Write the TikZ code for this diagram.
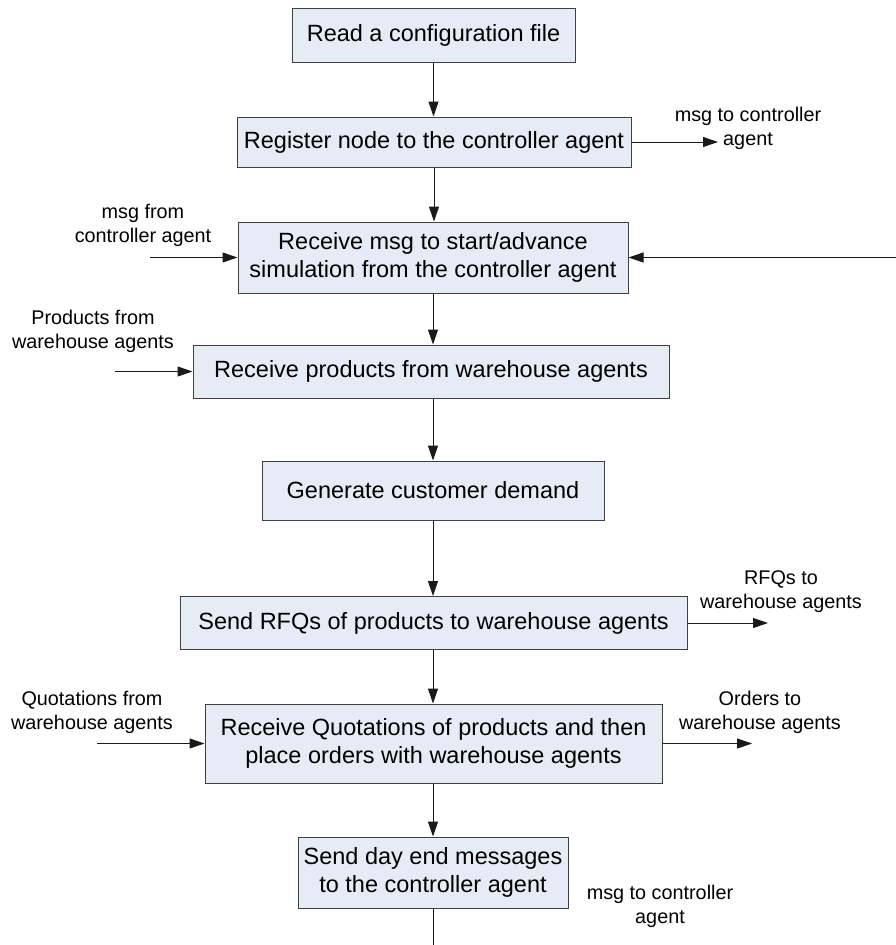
\documentclass[tikz,border=0pt]{standalone}
\usepackage{fontspec}
\setmainfont{Liberation Sans}
\usetikzlibrary{arrows.meta}
\definecolor{boxfill}{HTML}{E6ECF6}
\definecolor{boxline}{HTML}{404040}
\definecolor{wire}{HTML}{1A1A1A}
\tikzset{
  stepbox/.style={draw=boxline, fill=boxfill, line width=1pt, inner sep=0pt,
    align=center, font=\fontsize{23.5}{28}\selectfont},
  flow/.style={draw=wire, line width=1pt, -{Triangle[length=15pt,width=10pt]}},
  plain/.style={draw=wire, line width=1pt},
  note/.style={align=center, inner sep=0pt, font=\fontsize{19.8}{24}\selectfont},
}
\begin{document}
\begin{tikzpicture}[x=1pt,y=-1pt]
\useasboundingbox (0,0) rectangle (896,945);

% process steps
\node[stepbox, minimum width=283pt, minimum height=54pt] (read) at (433.5,35) {Read a configuration file};
\node[stepbox, minimum width=394pt, minimum height=50pt] (reg) at (434,142) {Register node to the controller agent};
\node[stepbox, minimum width=390pt, minimum height=71pt] (start) at (433,257.5) {Receive msg to start/advance\\simulation from the controller agent};
\node[stepbox, minimum width=476pt, minimum height=53pt] (prod) at (431,371.5) {Receive products from warehouse agents};
\node[stepbox, minimum width=342pt, minimum height=59pt] (demand) at (433,490.5) {Generate customer demand};
\node[stepbox, minimum width=507pt, minimum height=53pt] (rfq) at (433.5,623) {Send RFQs of products to warehouse agents};
\node[stepbox, minimum width=457pt, minimum height=79pt] (quote) at (433.5,743.5) {Receive Quotations of products and then\\place orders with warehouse agents};
\node[stepbox, minimum width=270pt, minimum height=71pt] (dayend) at (433,872.5) {Send day end messages\\to the controller agent};

% side labels
\node[note] (lregout) at (748,128) {msg to controller\\agent};
\node[note] (lstartin) at (143,225) {msg from\\controller agent};
\node[note] (lprodin) at (93,331.5) {Products from\\warehouse agents};
\node[note] (lrfqout) at (781,591.5) {RFQs to\\warehouse agents};
\node[note] (lquotein) at (92,712) {Quotations from\\warehouse agents};
\node[note] (lorderout) at (760,712) {Orders to\\warehouse agents};
\node[note] (ldayout) at (660,906) {msg to controller\\agent};

% free ends of the side connectors
\coordinate (regout) at (718,142);
\coordinate (startin) at (150,257.5);
\coordinate (loopin) at (896,257.5);
\coordinate (prodin) at (115,371.5);
\coordinate (rfqout) at (768,623);
\coordinate (quotein) at (97,743.5);
\coordinate (orderout) at (752,743.5);
\coordinate (dayout) at (433,945);

% main flow
\draw[flow] (read.south) -- (read.south |- reg.north);
\draw[flow] (reg.south) -- (reg.south |- start.north);
\draw[flow] (start.south) -- (start.south |- prod.north);
\draw[flow] (start.south |- prod.south) -- (start.south |- demand.north);
\draw[flow] (demand.south) -- (demand.south |- rfq.north);
\draw[flow] (demand.south |- rfq.south) -- (demand.south |- quote.north);
\draw[flow] (demand.south |- quote.south) -- (dayend.north);
\draw[plain] (dayend.south) -- (dayout);

% messages in and out
\draw[flow] (reg.east) -- (regout);
\draw[flow] (startin) -- (start.west);
\draw[flow] (loopin) -- (start.east);
\draw[flow] (prodin) -- (prod.west);
\draw[flow] (rfq.east) -- (rfqout);
\draw[flow] (quotein) -- (quote.west);
\draw[flow] (quote.east) -- (orderout);
\end{tikzpicture}
\end{document}
